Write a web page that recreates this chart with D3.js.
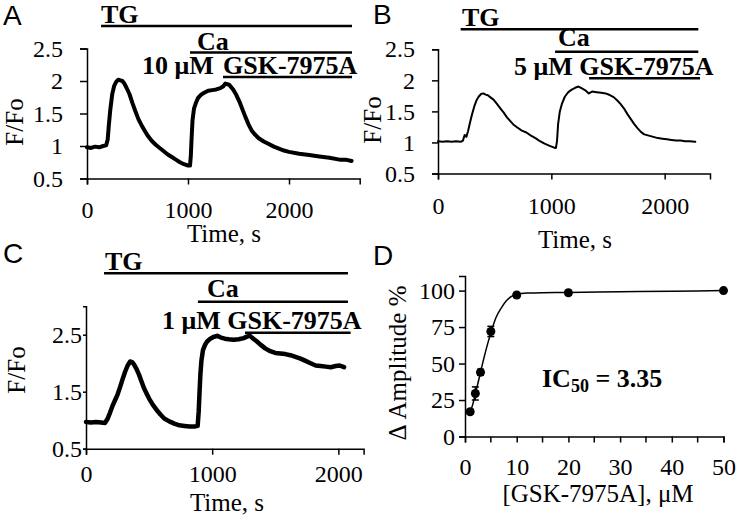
<!DOCTYPE html>
<html><head><meta charset="utf-8">
<script src="https://cdn.jsdelivr.net/npm/d3@7/dist/d3.min.js"></script>
<style>
body{margin:0;background:#fff}
svg{display:block}
text{font-family:"Liberation Serif","Times New Roman",serif;fill:#000}
text.letter{font-family:"Liberation Sans",Arial,sans-serif}
</style>
</head><body>
<svg id="chart" width="738" height="522"></svg>
<script>
// ---------- DATA ----------
const timeA = [0,40,80,120,160,190,205,215,230,250,270,290,310,330,350,370,390,420,450,480,510,540,570,600,640,680,720,760,800,840,880,920,960,1000,1020,1028,1035,1045,1060,1080,1100,1130,1160,1200,1240,1280,1320,1350,1370,1390,1410,1430,1450,1480,1510,1540,1570,1600,1630,1660,1700,1750,1800,1850,1900,1950,2000,2100,2200,2300,2400,2500,2560,2620];
const ffoA  = [0.98,0.97,0.99,0.98,1.00,1.01,1.10,1.30,1.55,1.80,1.93,1.99,2.02,2.01,2.00,1.96,1.90,1.80,1.66,1.53,1.41,1.32,1.24,1.16,1.08,1.02,0.97,0.92,0.87,0.83,0.79,0.75,0.72,0.70,0.70,0.85,1.10,1.40,1.58,1.67,1.74,1.79,1.82,1.85,1.86,1.87,1.89,1.92,1.96,1.95,1.94,1.90,1.86,1.78,1.68,1.56,1.44,1.33,1.24,1.18,1.12,1.07,1.03,0.99,0.96,0.93,0.91,0.88,0.86,0.84,0.82,0.79,0.79,0.77];

const timeB = [0,40,80,120,160,200,220,235,250,265,280,300,320,340,360,380,400,420,440,460,490,520,550,580,610,640,670,700,740,780,820,860,900,940,980,1020,1040,1050,1060,1075,1095,1120,1150,1180,1210,1240,1270,1300,1330,1360,1400,1440,1480,1520,1550,1580,1610,1640,1670,1700,1730,1760,1790,1820,1860,1900,1940,1980,2020,2060,2100,2140,2180,2220,2270];
const ffoB  = [1.02,1.01,1.02,1.01,1.02,1.01,1.03,1.12,1.09,1.18,1.30,1.45,1.58,1.68,1.74,1.78,1.79,1.77,1.76,1.73,1.69,1.62,1.55,1.48,1.40,1.34,1.28,1.24,1.19,1.16,1.11,1.07,1.02,0.98,0.95,0.92,0.91,1.02,1.30,1.50,1.63,1.74,1.81,1.85,1.88,1.90,1.87,1.84,1.79,1.82,1.81,1.80,1.79,1.76,1.73,1.68,1.62,1.55,1.46,1.38,1.30,1.23,1.17,1.13,1.11,1.09,1.07,1.06,1.05,1.04,1.03,1.03,1.02,1.02,1.01];

const timeC = [0,40,80,120,150,170,190,210,230,250,270,290,310,330,350,365,380,400,420,440,460,480,500,530,560,590,620,660,700,740,780,820,860,885,893,900,907,915,927,945,960,985,1010,1040,1070,1100,1130,1170,1210,1250,1280,1300,1320,1350,1380,1420,1460,1500,1540,1580,1620,1660,1700,1740,1780,1820,1860,1900,1940,1980,2010,2045];
const ffoC  = [0.97,0.96,0.97,0.96,0.95,1.02,1.13,1.25,1.35,1.45,1.58,1.72,1.85,1.96,2.03,2.02,1.98,1.90,1.80,1.68,1.56,1.47,1.38,1.27,1.18,1.10,1.03,0.98,0.94,0.91,0.90,0.89,0.89,0.90,1.15,1.50,1.82,2.05,2.23,2.33,2.38,2.43,2.46,2.48,2.45,2.43,2.42,2.41,2.42,2.44,2.47,2.48,2.44,2.39,2.33,2.26,2.21,2.18,2.17,2.16,2.14,2.11,2.08,2.04,2.00,1.96,1.95,1.94,1.93,1.95,1.96,1.93];

// treatment bars [start, end] in seconds
const barsA = {TG:[139,2624], Ca:[1020,2624], GSK:[1347,2624]};
const barsB = {TG:[200,2297], Ca:[1033,2297], GSK:[1333,2312]};
const barsC = {TG:[143,2076], Ca:[887,2076], GSK:[1260,2097]};

// dose-response
const conc    = [1,2,3,5,10,20,50];
const ampl    = [17,29.5,44,72,97,98.5,100];
const amplErr = [1.5,4.5,2,3.5,1.5,1.5,1];
const fitConc = [1,1.5,2,2.5,3,3.5,4,4.5,5,6,7,8,9,10,12,15,20,30,40,50];
const fitAmpl = [16.5,22,29,36.5,44,51.5,58.5,65,71,81.5,88,93,96,97.3,98.3,98.6,98.7,99.2,99.6,100];

const yTicksAB = [0.5,1,1.5,2,2.5];
const yTicksC  = [0.5,1.5,2.5];
const xTicksTime = [0,1000,2000];
const yTicksD = [0,25,50,75,100];
const xTicksD = [0,10,20,30,40,50];
const xMinorD = [5,15,25,35,45];

// ---------- DRAW ----------
const svg = d3.select("#chart");

function styleAxis(g, fs){
  g.attr("font-family",null).attr("font-size",null);
  g.select(".domain").attr("stroke","#000").attr("stroke-width",1.5);
  g.selectAll(".tick line").attr("stroke","#000").attr("stroke-width",1.5);
  g.selectAll(".tick text").attr("font-size",fs).attr("fill","#000");
}
function letter(txt, xx, yy){
  svg.append("text").attr("class","letter").attr("x",xx).attr("y",yy).attr("font-size",28).text(txt);
}

function tracePanel(o){
  const x = d3.scaleLinear().domain(o.xDomain).range(o.xRange);
  const y = d3.scaleLinear().domain(o.yDomain).range(o.yRange);
  const g = svg.append("g");
  const xa = g.append("g").attr("transform",`translate(0,${o.yRange[0]})`)
    .call(d3.axisBottom(x).tickValues(xTicksTime).tickSizeOuter(0).tickSize(6).tickPadding(o.xPad).tickFormat(d3.format("d")));
  styleAxis(xa,24);
  const ya = g.append("g").attr("transform",`translate(${o.xRange[0]},0)`)
    .call(d3.axisLeft(y).tickValues(o.yTicks).tickSizeOuter(0).tickSize(o.yTickSize).tickPadding(o.yPad).tickFormat(d=>String(d)));
  styleAxis(ya,24);
  const pts = o.t.map((t,i)=>[t,o.v[i]]);
  g.append("path").datum(pts)
    .attr("d", d3.line().x(d=>x(d[0])).y(d=>y(d[1])).curve(d3.curveLinear))
    .attr("fill","none").attr("stroke","#000").attr("stroke-width",o.sw).attr("stroke-linejoin","round").attr("stroke-linecap","round");
  // treatment bars
  const bar = (key, yy) => g.append("line").attr("x1",x(o.bars[key][0])).attr("x2",x(o.bars[key][1]))
    .attr("y1",yy).attr("y2",yy).attr("stroke","#000").attr("stroke-width",2.5);
  bar("TG", o.barY[0]); bar("Ca", o.barY[1]); bar("GSK", o.barY[2]);
  const bold = (txt, xx, yy) => g.append("text").attr("x",xx).attr("y",yy).attr("font-size",26).attr("font-weight","bold").text(txt);
  bold("TG", o.tgT[0], o.tgT[1]);
  bold("Ca", o.caT[0], o.caT[1]);
  o.drugT.forEach(d=>bold(d[0], d[1], d[2]));
  // titles
  g.append("text").attr("x",o.xt[0]).attr("y",o.xt[1]).attr("text-anchor","middle").attr("font-size",25).text("Time, s");
  g.append("text").attr("transform",`translate(${o.yt[0]},${o.yt[1]}) rotate(-90)`).attr("text-anchor","middle").attr("font-size",25).text("F/Fo");
  letter(o.letter[0], o.letter[1], o.letter[2]);
}

tracePanel({t:timeA, v:ffoA, bars:barsA, xDomain:[0,2700], xRange:[87,359.7], yDomain:[0.5,2.5], yRange:[178.5,48.5],
  yTicks:yTicksAB, yTickSize:7, yPad:17, xPad:16, sw:4,
  barY:[26,52.5,77], tgT:[101,22.5], caT:[197,50], drugT:[["10 μM",142,74],["GSK-7975A",223,74]],
  xt:[224,242], yt:[23,122], letter:["A",3,25]});

tracePanel({t:timeB, v:ffoB, bars:barsB, xDomain:[0,2400], xRange:[438,710], yDomain:[0.5,2.5], yRange:[173.5,49.3],
  yTicks:yTicksAB, yTickSize:6, yPad:17, xPad:17, sw:2,
  barY:[29.3,51.7,78.3], tgT:[462,26], caT:[558,46], drugT:[["5 μM GSK-7975A",514,75]],
  xt:[575,248], yt:[381,120], letter:["B",373,24]});

tracePanel({t:timeC, v:ffoC, bars:barsC, xDomain:[0,2200], xRange:[86,363.6], yDomain:[0.5,3], yRange:[448.7,306.2],
  yTicks:yTicksC, yTickSize:3, yPad:1, xPad:10, sw:4.5,
  barY:[273.3,301.7,332.7], tgT:[105,270], caT:[207,297], drugT:[["1 μM GSK-7975A",162,328.5]],
  xt:[227,511], yt:[25,370], letter:["C",3,263]});

// Panel D
(function(){
  const x = d3.scaleLinear().domain([0,50]).range([465,723.5]);
  const y = d3.scaleLinear().domain([0,110]).range([436.5,276]);
  const g = svg.append("g");
  const xa = g.append("g").attr("transform",`translate(0,${y(0)})`)
    .call(d3.axisBottom(x).tickValues(xTicksD).tickSizeOuter(0).tickSize(6).tickPadding(15).tickFormat(d3.format("d")));
  styleAxis(xa,24);
  g.selectAll(".minor").data(xMinorD).join("line").attr("class","minor")
    .attr("x1",d=>x(d)).attr("x2",d=>x(d)).attr("y1",y(0)).attr("y2",y(0)+6).attr("stroke","#000").attr("stroke-width",1.5);
  const ya = g.append("g").attr("transform",`translate(${x(0)},0)`)
    .call(d3.axisLeft(y).tickValues(yTicksD).tickSizeOuter(0).tickSize(6).tickPadding(4));
  styleAxis(ya,24);
  const fit = fitConc.map((c,i)=>[c,fitAmpl[i]]);
  g.append("path").datum(fit).attr("d", d3.line().x(d=>x(d[0])).y(d=>y(d[1])).curve(d3.curveMonotoneX))
    .attr("fill","none").attr("stroke","#000").attr("stroke-width",1.5);
  const pts = conc.map((c,i)=>({c, a:ampl[i], e:amplErr[i]}));
  g.selectAll(".eb").data(pts).join("line").attr("class","eb").attr("x1",d=>x(d.c)).attr("x2",d=>x(d.c))
    .attr("y1",d=>y(d.a-d.e)).attr("y2",d=>y(d.a+d.e)).attr("stroke","#000").attr("stroke-width",1.5);
  ["lo","hi"].forEach(k=>{
    g.selectAll(".cap"+k).data(pts).join("line").attr("class","cap"+k).attr("x1",d=>x(d.c)-3.5).attr("x2",d=>x(d.c)+3.5)
      .attr("y1",d=>y(k==="lo"?d.a-d.e:d.a+d.e)).attr("y2",d=>y(k==="lo"?d.a-d.e:d.a+d.e)).attr("stroke","#000").attr("stroke-width",1.5);
  });
  g.selectAll(".pt").data(pts).join("circle").attr("class","pt").attr("cx",d=>x(d.c)).attr("cy",d=>y(d.a)).attr("r",4.5).attr("fill","#000");
  const t = g.append("text").attr("x",542).attr("y",386.5).attr("font-size",26).attr("font-weight","bold");
  t.append("tspan").text("IC");
  t.append("tspan").attr("font-size",18).attr("dy",5).text("50");
  t.append("tspan").attr("dy",-5).text(" = 3.35");
  g.append("text").attr("x",598).attr("y",502).attr("text-anchor","middle").attr("font-size",25).text("[GSK-7975A], μM");
  g.append("text").attr("transform","translate(406,363) rotate(-90)").attr("text-anchor","middle").attr("font-size",25).text("Δ Amplitude %");
  letter("D", 373, 265);
})();
</script>
</body></html>
